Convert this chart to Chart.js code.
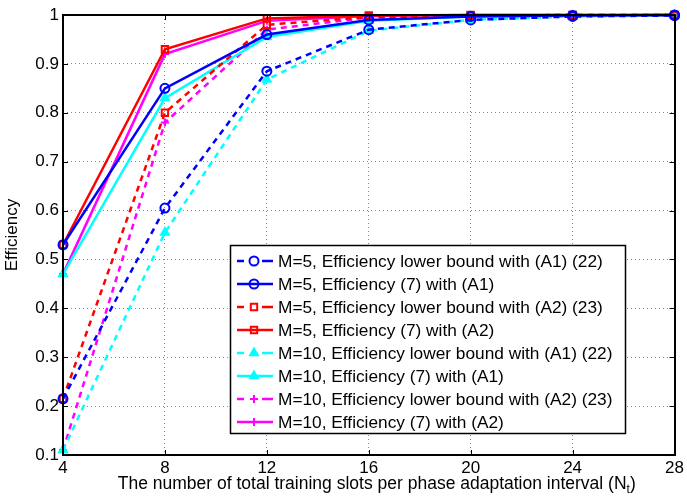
<!DOCTYPE html>
<html>
<head>
<meta charset="utf-8">
<script src="https://cdn.jsdelivr.net/npm/chart.js@4/dist/chart.umd.min.js"></script>
<style>
  html, body { margin: 0; background: #fff; }
  #wrap { width: 687px; height: 498px; }
</style>
</head>
<body>
<div id="wrap"><canvas id="eff"></canvas></div>
<script>
const slots = [4, 8, 12, 16, 20, 24, 28];
const m5LowerA1 = [0.215, 0.605, 0.885, 0.97, 0.99, 0.997, 0.999];
const m5EffA1 = [0.53, 0.85, 0.96, 0.99, 0.997, 0.999, 1.0];
const m5LowerA2 = [0.215, 0.80, 0.98, 0.996, 0.999, 1.0, 1.0];
const m5EffA2 = [0.53, 0.93, 0.993, 0.999, 1.0, 1.0, 1.0];
const m10LowerA1 = [0.11, 0.555, 0.868, 0.968, 0.99, 0.997, 0.999];
const m10EffA1 = [0.47, 0.83, 0.955, 0.988, 0.997, 0.999, 1.0];
const m10LowerA2 = [0.11, 0.78, 0.97, 0.995, 0.999, 1.0, 1.0];
const m10EffA2 = [0.47, 0.92, 0.988, 0.998, 1.0, 1.0, 1.0];
const yTicks = [0.1, 0.2, 0.3, 0.4, 0.5, 0.6, 0.7, 0.8, 0.9, 1];

const FONT = '"Liberation Sans", Arial, sans-serif';

function series(label, values, color, dashed, marker) {
  return {
    label: label,
    data: values.map((v, i) => ({ x: slots[i], y: v })),
    borderColor: color,
    backgroundColor: marker === "triangle" ? color : "rgba(0,0,0,0)",
    borderWidth: 2.5,
    borderDash: dashed ? [6, 5] : [],
    pointStyle: marker,
    pointRadius: marker === "cross" ? 4 : 4.5,
    pointBorderColor: color,
    pointBackgroundColor: marker === "triangle" ? color : "rgba(0,0,0,0)",
    pointBorderWidth: 2,
    tension: 0,
    clip: false,
  };
}

// box around the axes, inward ticks, axis titles and the boxed legend
const axesBox = {
  id: "axesBox",
  afterDatasetsDraw(chart) {
    const { ctx, chartArea: a, scales } = chart;
    ctx.save();
    ctx.strokeStyle = "#000";
    ctx.lineWidth = 1;
    ctx.setLineDash([]);
    slots.forEach((s) => {
      const px = Math.round(scales.x.getPixelForValue(s)) + 0.5;
      ctx.beginPath();
      ctx.moveTo(px, a.bottom); ctx.lineTo(px, a.bottom - 5);
      ctx.moveTo(px, a.top); ctx.lineTo(px, a.top + 5);
      ctx.stroke();
    });
    yTicks.forEach((t) => {
      const py = Math.round(scales.y.getPixelForValue(t)) + 0.5;
      ctx.beginPath();
      ctx.moveTo(a.left, py); ctx.lineTo(a.left + 5, py);
      ctx.moveTo(a.right, py); ctx.lineTo(a.right - 5, py);
      ctx.stroke();
    });
    ctx.lineWidth = 2;
    ctx.strokeRect(Math.round(a.left), Math.round(a.top),
      Math.round(a.right - a.left), Math.round(a.bottom - a.top));

    // titles
    const big = "17.5px " + FONT, small = "12px " + FONT;
    ctx.fillStyle = "#000";
    ctx.textBaseline = "middle";
    ctx.font = big;
    const main = "The number of total training slots per phase adaptation interval (N";
    const wMain = ctx.measureText(main).width;
    ctx.font = small;
    const wSub = ctx.measureText("t").width;
    ctx.font = big;
    const wEnd = ctx.measureText(")").width;
    const tx = (a.left + a.right) / 2 + 8 - (wMain + wSub + wEnd) / 2;
    ctx.textAlign = "left";
    ctx.fillText(main, tx, 484);
    ctx.font = small;
    ctx.fillText("t", tx + wMain, 490);
    ctx.font = big;
    ctx.fillText(")", tx + wMain + wSub, 484);

    ctx.save();
    ctx.translate(12, (a.top + a.bottom) / 2);
    ctx.rotate(-Math.PI / 2);
    ctx.textAlign = "center";
    ctx.font = "17px " + FONT;
    ctx.fillText("Efficiency", 0, 0);
    ctx.restore();

    // legend
    const x0 = 230, y0 = 245, w = 395, h = 188, row = 23;
    ctx.fillStyle = "#fff";
    ctx.fillRect(x0, y0, w, h);
    ctx.lineWidth = 1.5;
    ctx.strokeStyle = "#000";
    ctx.strokeRect(x0 + 0.5, y0 + 0.5, w, h);
    ctx.textAlign = "left";
    chart.data.datasets.forEach((ds, i) => {
      const y = y0 + 16 + i * row;
      ctx.strokeStyle = ds.borderColor;
      ctx.lineWidth = ds.borderWidth;
      ctx.beginPath();
      if (ds.borderDash.length) {
        ctx.moveTo(x0 + 7, y); ctx.lineTo(x0 + 14, y);
        ctx.moveTo(x0 + 32, y); ctx.lineTo(x0 + 43, y);
      } else {
        ctx.moveTo(x0 + 7, y); ctx.lineTo(x0 + 43, y);
      }
      ctx.stroke();
      ctx.fillStyle = ds.pointBackgroundColor;
      ctx.lineWidth = ds.pointBorderWidth;
      Chart.helpers.drawPoint(ctx, {
        pointStyle: ds.pointStyle, radius: ds.pointRadius,
        borderWidth: ds.pointBorderWidth, rotation: 0,
      }, x0 + 24, y);
      ctx.fillStyle = "#000";
      ctx.font = "17.3px " + FONT;
      ctx.fillText(ds.label, x0 + 48, y + 1);
    });
    ctx.restore();
  },
};

new Chart(document.getElementById("eff"), {
  type: "line",
  data: {
    datasets: [
      series("M=5, Efficiency lower bound with (A1) (22)", m5LowerA1, "#0000ff", true, "circle"),
      series("M=5, Efficiency (7) with (A1)", m5EffA1, "#0000ff", false, "circle"),
      series("M=5, Efficiency lower bound with (A2) (23)", m5LowerA2, "#ff0000", true, "rect"),
      series("M=5, Efficiency (7) with (A2)", m5EffA2, "#ff0000", false, "rect"),
      series("M=10, Efficiency lower bound with (A1) (22)", m10LowerA1, "#00ffff", true, "triangle"),
      series("M=10, Efficiency (7) with (A1)", m10EffA1, "#00ffff", false, "triangle"),
      series("M=10, Efficiency lower bound with (A2) (23)", m10LowerA2, "#ff00ff", true, "cross"),
      series("M=10, Efficiency (7) with (A2)", m10EffA2, "#ff00ff", false, "cross"),
    ],
  },
  options: {
    responsive: true,
    maintainAspectRatio: false,
    animation: false,
    layout: { padding: { top: 15, right: 7, left: 0, bottom: 0 } },
    plugins: {
      legend: { display: false },
      tooltip: { enabled: false },
    },
    scales: {
      x: {
        type: "linear",
        min: 4,
        max: 28,
        afterBuildTicks: (scale) => { scale.ticks = slots.map((v) => ({ value: v })); },
        afterFit: (scale) => { scale.height = 43; },
        grid: { color: "#8a8a8a", lineWidth: 1, drawTicks: false },
        border: { display: false, dash: [1, 3] },
        ticks: { color: "#000", padding: 3, font: { family: FONT, size: 17 } },
      },
      y: {
        min: 0.1,
        max: 1,
        afterBuildTicks: (scale) => { scale.ticks = yTicks.map((v) => ({ value: v })); },
        afterFit: (scale) => { scale.width = 63; },
        grid: { color: "#8a8a8a", lineWidth: 1, drawTicks: false },
        border: { display: false, dash: [1, 3] },
        ticks: {
          color: "#000",
          padding: 4,
          font: { family: FONT, size: 17 },
          callback: (v) => String(+v.toFixed(1)),
        },
      },
    },
  },
  plugins: [axesBox],
});
</script>
</body>
</html>
